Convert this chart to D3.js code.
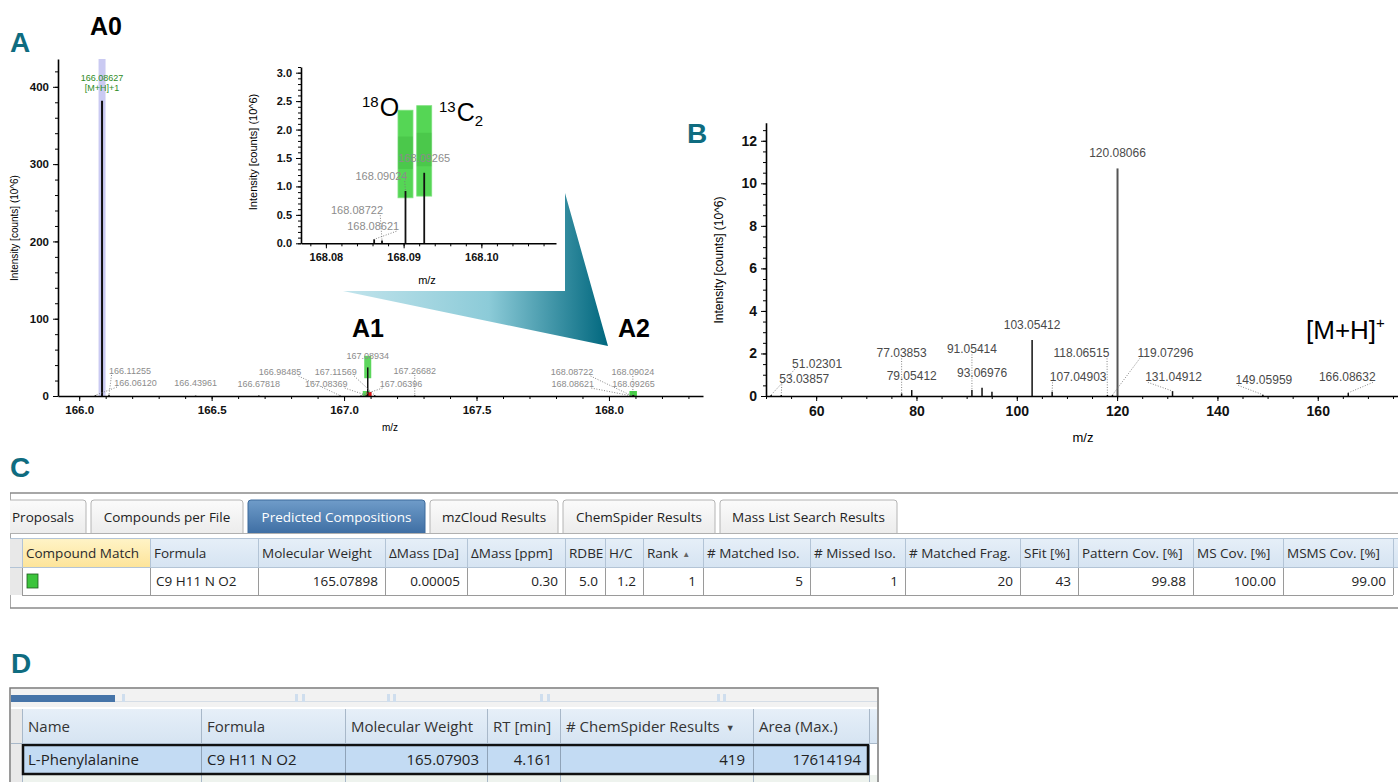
<!DOCTYPE html>
<html><head><meta charset="utf-8">
<script src="https://cdn.jsdelivr.net/npm/d3@7"></script>
<style>
body{margin:0;background:#fff;}
svg{display:block;}
</style></head><body>
<svg id="fig" width="1398" height="782"></svg>
<script>
// ================= DATA =================
// Panel A: full-scan spectrum around [M+H]+ of L-phenylalanine (intensity in 10^6 counts)
const msMz        = [166.08627,166.11255,166.06120,166.43961,166.67818,166.98485,167.06396,167.08369,167.08934,167.11569,167.26682,168.08621,168.08722,168.09024,168.09265];
const msIntensity = [382,      1.5,      1.0,      0.5,      0.5,      0.5,      0.8,      1.0,      37,       1.0,      0.8,      0.07,     0.05,     0.92,     1.24];
const mainPeakNote = ["166.08627","[M+H]+1"];
// isotope pattern boxes (predicted intensity ranges)
const isoMz   = [167.08369,167.08934,168.09024,168.09265];
const isoLow  = [0.2,      23,       0.80,     0.83];
const isoHigh = [1.5,      52,       2.34,     2.42];
const missedIsoMz = [167.0945];
// Panel A axes ticks
const aXTicks = [166.0,166.5,167.0,167.5,168.0];
const aYTicks = [0,100,200,300,400];
const insetXTicks = [168.08,168.09,168.10];
const insetYTicks = [0.0,0.5,1.0,1.5,2.0,2.5,3.0];

// Panel B: MS2 fragment spectrum (intensity in 10^6 counts)
const frMz        = [51.02301,53.03857,77.03853,79.05412,91.05414,93.06976,103.05412,107.04903,118.06515,119.07296,120.08066,131.04912,149.05959,166.08632];
const frIntensity = [0.05,    0.05,    0.12,    0.28,    0.28,    0.39,    2.63,     0.20,     0.05,     0.05,     10.7,     0.23,     0.06,     0.15];
const frUnlabeledMz = [95.04914];
const frUnlabeledIntensity = [0.20];
const bXTicks = [60,80,100,120,140,160];
const bYTicks = [0,2,4,6,8,10,12];

// Panel C: predicted compositions table
const tabNames = ["Proposals","Compounds per File","Predicted Compositions","mzCloud Results","ChemSpider Results","Mass List Search Results"];
const activeTab = "Predicted Compositions";
const cHeaders = ["Compound Match","Formula","Molecular Weight","ΔMass [Da]","ΔMass [ppm]","RDBE","H/C","Rank","# Matched Iso.","# Missed Iso.","# Matched Frag.","SFit [%]","Pattern Cov. [%]","MS Cov. [%]","MSMS Cov. [%]"];
const cValues  = ["","C9 H11 N O2","165.07898","0.00005","0.30","5.0","1.2","1","5","1","20","43","99.88","100.00","99.00"];

// Panel D: compound table
const dHeaders = ["Name","Formula","Molecular Weight","RT [min]","# ChemSpider Results","Area (Max.)"];
const dValues  = ["L-Phenylalanine","C9 H11 N O2","165.07903","4.161","419","17614194"];

// ================= LAYOUT (pixels, not data) =================
const msLabelDx = [0,21,40,0,0,-60,40,-40,0,-39,0,-59,-60,0,0];
const msLabelDy = [0,-25,-13,-13,-12,-24,-12,-12,-40,-24,-25,-12,-24,-24,-12];
const insetLabel = {"168.08621":[-1,-17],"168.08722":[-25,-33],"168.09024":[-24,-67],"168.09265":[0,-85]};
const frLabelDx = [46,23,0,0,0,0,0,26,-26,53,0,1,1,-1];
const frLabelDy = [-32,-17,-43,-20,-47,-23,-71,-19,-43,-43,-243,-19,-16,-19];
const tabEdges = [[4,86],[91,243],[248,425],[430,558],[563,715],[720,897]];
const cColEdges = [22,150,258,385,467,565,605,643,703,810,905,1020,1078,1193,1283,1393];
const dColEdges = [22,201,345,487,560,753,869];

const CH = "'Liberation Sans', Arial, sans-serif";
const TB = "'Open Sans', 'Noto Sans', sans-serif";
const TEAL = "#0f6c80";
const fmt5 = d3.format(".5f");

const svg = d3.select("#fig");
const defs = svg.append("defs");

// ---------- helpers ----------
function axisStyle(g, fs){
  g.select(".domain").attr("stroke","#000").attr("stroke-width",1.6);
  g.selectAll(".tick line").attr("stroke","#000").attr("stroke-width",1);
  g.selectAll(".tick text").attr("font-family",CH).attr("font-weight","bold").attr("font-size",fs).attr("fill","#111");
}
function drawAxes(x, y, xt, yt, xminor, yminor, xf, yf, fs){
  const g = svg.append("g");
  const y0 = y.range()[0], x0 = x.range()[0];
  g.append("g").attr("transform",`translate(0,${y0})`)
    .call(d3.axisBottom(x).tickValues(xminor).tickSize(3).tickSizeOuter(0).tickFormat(""))
    .call(s=>{s.select(".domain").remove(); s.selectAll("line").attr("stroke","#000");});
  g.append("g").attr("transform",`translate(${x0},0)`)
    .call(d3.axisLeft(y).tickValues(yminor).tickSize(3).tickSizeOuter(0).tickFormat(""))
    .call(s=>{s.select(".domain").remove(); s.selectAll("line").attr("stroke","#000");});
  g.append("g").attr("transform",`translate(0,${y0})`)
    .call(d3.axisBottom(x).tickValues(xt).tickSize(5).tickSizeOuter(0).tickFormat(xf).tickPadding(5))
    .call(s=>axisStyle(s,fs));
  g.append("g").attr("transform",`translate(${x0},0)`)
    .call(d3.axisLeft(y).tickValues(yt).tickSize(5).tickSizeOuter(0).tickFormat(yf).tickPadding(4))
    .call(s=>axisStyle(s,fs));
  return g;
}
function dotted(g, x1,y1,x2,y2, col){
  g.append("line").attr("x1",x1).attr("y1",y1).attr("x2",x2).attr("y2",y2)
    .attr("stroke",col||"#777").attr("stroke-width",0.9).attr("stroke-dasharray","1,1.6");
}
function peakLabels(g, pts, x, y, fs, col){
  const y0 = y(0);
  pts.forEach(p=>{
    const px = x(p.mz), cx = px + p.dx, cy = y0 + p.dy;
    const w = p.text.length*fs*0.53;
    const top = y(p.v);
    if (p.dx !== 0){
      const sx = p.dx>0 ? cx - w/2 + 3 : cx + w/2 - 3;
      dotted(g, sx, cy+fs*0.45, px, top);
    } else if (top - (cy + fs*0.45) > 11){
      dotted(g, cx, cy+fs*0.45, px, top);
    }
    g.append("text").attr("x",cx).attr("y",cy).attr("dy","0.35em").attr("text-anchor","middle")
      .attr("font-family",CH).attr("font-size",fs).attr("fill",col).text(p.text);
  });
}

// ---------- Panel letters ----------
[["A",10,52],["B",687,143],["C",10,477],["D",11,673]].forEach(([t,x,y])=>{
  svg.append("text").attr("x",x).attr("y",y).text(t)
    .attr("font-family",CH).attr("font-weight","bold").attr("font-size",28).attr("fill",TEAL);
});

// ================= PANEL A (main) =================
const xA = d3.scaleLinear().domain([165.92,168.355]).range([58,703]);
const yA = d3.scaleLinear().domain([0,436]).range([396,59]);
const gA = svg.append("g");
gA.append("rect").attr("x",xA(msMz[0])-3.5).attr("width",7).attr("y",yA(436)).attr("height",yA(0)-yA(436)).attr("fill","#cacaf2");
drawAxes(xA,yA,aXTicks,aYTicks,d3.range(166.0,168.35,0.1),d3.range(0,436,20),d3.format(".1f"),d3.format("d"),11.5);
isoMz.forEach((m,i)=>{
  const top = yA(isoHigh[i]), bot = yA(isoLow[i]);
  const h = Math.max(bot-top,5);
  const yy = Math.min(top, yA(0)-5);
  gA.append("rect").attr("x",xA(m)-3.5).attr("width",7).attr("y",yy).attr("height",h).attr("fill","#3fcf3f").attr("opacity",0.85);
});
missedIsoMz.forEach(m=>{
  gA.append("rect").attr("x",xA(m)-2.5).attr("width",5).attr("y",yA(0)-4).attr("height",4).attr("fill","#e01010");
});
gA.selectAll("line.pk").data(msMz.map((m,i)=>({m,v:msIntensity[i]}))).join("line")
  .attr("x1",d=>xA(d.m)).attr("x2",d=>xA(d.m)).attr("y1",yA(0)).attr("y2",d=>yA(d.v))
  .attr("stroke","#111").attr("stroke-width",d=>d.v>100?2:1.5);
peakLabels(gA, msMz.slice(1).map((m,k)=>({mz:m,v:msIntensity[k+1],dx:msLabelDx[k+1],dy:msLabelDy[k+1],text:fmt5(m)})), xA, yA, 9, "#8c8c8c");
gA.append("text").attr("x",xA(msMz[0])).attr("y",yA(msIntensity[0])-20).attr("text-anchor","middle")
  .attr("font-family",CH).attr("font-size",9).attr("fill","#2e8b1e").text(mainPeakNote[0]);
gA.append("text").attr("x",xA(msMz[0])).attr("y",yA(msIntensity[0])-10).attr("text-anchor","middle")
  .attr("font-family",CH).attr("font-size",9).attr("fill","#2e8b1e").text(mainPeakNote[1]);
gA.append("text").attr("x",390).attr("y",431).attr("text-anchor","middle").attr("font-family",CH).attr("font-size",10).text("m/z");
gA.append("text").attr("transform","translate(18,228) rotate(-90)").attr("text-anchor","middle").attr("font-family",CH).attr("font-size",10).text("Intensity [counts] (10^6)");
[["A0",90,35],["A1",352,337],["A2",618,337]].forEach(([t,x,y])=>{
  gA.append("text").attr("x",x).attr("y",y).text(t).attr("font-family",CH).attr("font-weight","bold").attr("font-size",25).attr("fill","#000");
});

// ---------- zoom funnel ----------
const grad = defs.append("linearGradient").attr("id","funnel").attr("gradientUnits","userSpaceOnUse")
  .attr("x1",343).attr("y1",0).attr("x2",608).attr("y2",0);
grad.append("stop").attr("offset","0%").attr("stop-color","#c2e4ec");
grad.append("stop").attr("offset","55%").attr("stop-color","#8ccbd8");
grad.append("stop").attr("offset","100%").attr("stop-color","#00677e");
svg.append("polygon").attr("points","343,291 565,291 565,193 608,346").attr("fill","url(#funnel)");

// ================= PANEL A inset =================
const xI = d3.scaleLinear().domain([168.0768,168.1096]).range([301,556]);
const yI = d3.scaleLinear().domain([0,3.1]).range([243.3,67]);
const gI = svg.append("g");
svg.insert("rect","polygon").attr("x",295).attr("y",60).attr("width",270).attr("height",228).attr("fill","#fff");
drawAxes(xI,yI,insetXTicks,insetYTicks,d3.range(168.078,168.109,0.002),d3.range(0,3.11,0.1),d3.format(".2f"),d3.format(".1f"),11);
const inI = msMz.map((m,i)=>({m,v:msIntensity[i]})).filter(d=>d.m>xI.domain()[0]&&d.m<xI.domain()[1]);
isoMz.forEach((m,i)=>{
  if (m<xI.domain()[0]) return;
  const top = yI(isoHigh[i]), bot = yI(isoLow[i]), h = bot-top;
  gI.append("rect").attr("x",xI(m)-7.5).attr("width",15).attr("y",top).attr("height",h).attr("fill","#55d655").attr("stroke","#7ee07e").attr("stroke-width",0.8);
  gI.append("rect").attr("x",xI(m)-7.5).attr("width",15).attr("y",top+h*0.3).attr("height",h*0.37).attr("fill","#2e9e2e").attr("opacity",0.25);
});
gI.selectAll("line.pk").data(inI).join("line")
  .attr("x1",d=>xI(d.m)).attr("x2",d=>xI(d.m)).attr("y1",yI(0)).attr("y2",d=>yI(d.v))
  .attr("stroke","#111").attr("stroke-width",1.8);
peakLabels(gI, inI.map(d=>{const k=fmt5(d.m); return {mz:d.m,v:d.v,dx:insetLabel[k][0],dy:insetLabel[k][1],text:k};}), xI, yI, 11, "#8c8c8c");
gI.append("text").attr("x",427).attr("y",284).attr("text-anchor","middle").attr("font-family",CH).attr("font-size",11).text("m/z");
gI.append("text").attr("transform","translate(257,152) rotate(-90)").attr("text-anchor","middle").attr("font-family",CH).attr("font-size",11).text("Intensity [counts] (10^6)");
const t18 = gI.append("text").attr("x",362).attr("y",116).attr("font-family",CH).attr("font-size",25).attr("fill","#000");
t18.append("tspan").attr("font-size",15).attr("dy",-9).text("18");
t18.append("tspan").attr("dy",9).attr("dx",1).text("O");
const t13 = gI.append("text").attr("x",439).attr("y",121).attr("font-family",CH).attr("font-size",25).attr("fill","#000");
t13.append("tspan").attr("font-size",15).attr("dy",-9).text("13");
t13.append("tspan").attr("dy",9).attr("dx",1).text("C");
t13.append("tspan").attr("font-size",15).attr("dy",5).text("2");

// ================= PANEL B =================
const xB = d3.scaleLinear().domain([50,176]).range([766,1398]);
const yB = d3.scaleLinear().domain([0,12.85]).range([396,122.7]);
const gB = svg.append("g");
drawAxes(xB,yB,bXTicks,bYTicks,d3.range(50,176,5),d3.range(0,12.85,0.5),d3.format("d"),d3.format("d"),14);
const frAll = frMz.map((m,i)=>({m,v:frIntensity[i]})).concat(frUnlabeledMz.map((m,i)=>({m,v:frUnlabeledIntensity[i]})));
gB.selectAll("line.pk").data(frAll).join("line")
  .attr("x1",d=>xB(d.m)).attr("x2",d=>xB(d.m)).attr("y1",yB(0)).attr("y2",d=>yB(d.v))
  .attr("stroke",d=>d.v>5?"#555":"#111").attr("stroke-width",d=>d.v>5?2:1.5);
peakLabels(gB, frMz.map((m,i)=>({mz:m,v:frIntensity[i],dx:frLabelDx[i],dy:frLabelDy[i],text:fmt5(m)})), xB, yB, 12, "#4a4a4a");
gB.append("text").attr("x",1083).attr("y",442).attr("text-anchor","middle").attr("font-family",CH).attr("font-size",13).text("m/z");
gB.append("text").attr("transform","translate(723,260) rotate(-90)").attr("text-anchor","middle").attr("font-family",CH).attr("font-size",12).text("Intensity [counts] (10^6)");
const mh = gB.append("text").attr("x",1306).attr("y",339).attr("font-family",CH).attr("font-size",26).attr("fill","#000");
mh.append("tspan").text("[M+H]");
mh.append("tspan").attr("font-size",15).attr("dy",-11).text("+");

// ================= PANEL C (table) =================
const gC = svg.append("g");
defs.append("clipPath").attr("id","clipC").append("rect").attr("x",10).attr("y",490).attr("width",1390).attr("height",120);
gC.attr("clip-path","url(#clipC)");
const gTabA = defs.append("linearGradient").attr("id","tabAct").attr("x1",0).attr("y1",0).attr("x2",0).attr("y2",1);
gTabA.append("stop").attr("offset","0%").attr("stop-color","#6f9cc9");
gTabA.append("stop").attr("offset","100%").attr("stop-color","#3f6fa4");
const gTabI = defs.append("linearGradient").attr("id","tabIn").attr("x1",0).attr("y1",0).attr("x2",0).attr("y2",1);
gTabI.append("stop").attr("offset","0%").attr("stop-color","#fbfbfb");
gTabI.append("stop").attr("offset","100%").attr("stop-color","#ececec");
const gHdr = defs.append("linearGradient").attr("id","hdr").attr("x1",0).attr("y1",0).attr("x2",0).attr("y2",1);
gHdr.append("stop").attr("offset","0%").attr("stop-color","#e6eff8");
gHdr.append("stop").attr("offset","100%").attr("stop-color","#d6e4f2");
const gYel = defs.append("linearGradient").attr("id","yel").attr("x1",0).attr("y1",0).attr("x2",0).attr("y2",1);
gYel.append("stop").attr("offset","0%").attr("stop-color","#fff4c8");
gYel.append("stop").attr("offset","100%").attr("stop-color","#fde49a");

gC.append("rect").attr("x",10).attr("y",493).attr("width",1400).attr("height",115).attr("fill","#fff").attr("stroke","#8a8a8a").attr("stroke-width",1.5);
gC.append("line").attr("x1",10).attr("x2",1398).attr("y1",533.5).attr("y2",533.5).attr("stroke","#b0b0b0");
tabNames.forEach((t,i)=>{
  const [a,b] = tabEdges[i], act = t===activeTab;
  gC.append("path").attr("d",`M${a},533 L${a},503 Q${a},500 ${a+3},500 L${b-3},500 Q${b},500 ${b},503 L${b},533`)
    .attr("fill",act?"url(#tabAct)":"url(#tabIn)").attr("stroke",act?"#3d6a9c":"#b4b4b4");
  gC.append("text").attr("x",i===0?12:(a+b)/2).attr("y",517).attr("dy","0.35em").attr("text-anchor",i===0?"start":"middle")
    .attr("font-family",TB).attr("font-size",13.5).attr("fill",act?"#fff":"#222").text(t);
});
gC.append("rect").attr("x",10).attr("y",538).attr("width",1390).attr("height",29).attr("fill","url(#hdr)");
gC.append("rect").attr("x",10).attr("y",538).attr("width",12).attr("height",57).attr("fill","#e8e8e8");
cHeaders.forEach((h,i)=>{
  const a = cColEdges[i], b = cColEdges[i+1];
  if (i===0) gC.append("rect").attr("x",a).attr("y",538).attr("width",b-a).attr("height",29).attr("fill","url(#yel)");
  const t = gC.append("text").attr("x",a+4).attr("y",553).attr("dy","0.35em").attr("font-family",TB).attr("font-size",13.5).attr("fill","#2a2a2a").text(h);
  if (h==="Rank") t.append("tspan").attr("font-size",8).attr("fill","#666").attr("dx",4).attr("dy",-1).text("▲");
});
const cellAlign = (i)=> i<=1 ? "start" : "end";
cValues.forEach((v,i)=>{
  const a = cColEdges[i], b = cColEdges[i+1];
  if (i===0){
    gC.append("rect").attr("x",a+5).attr("y",574).attr("width",11).attr("height",14).attr("fill","#3cc43c").attr("stroke","#1d5a1d").attr("stroke-width",0.8);
  } else {
    gC.append("text").attr("x",cellAlign(i)==="start"?a+6:b-7).attr("y",581).attr("dy","0.35em").attr("text-anchor",cellAlign(i))
      .attr("font-family",TB).attr("font-size",13.5).attr("fill","#222").text(v);
  }
});
cColEdges.forEach(x=>{
  gC.append("line").attr("x1",x+0.5).attr("x2",x+0.5).attr("y1",538).attr("y2",567).attr("stroke","#b3c4d6");
  gC.append("line").attr("x1",x+0.5).attr("x2",x+0.5).attr("y1",567).attr("y2",595).attr("stroke","#9a9a9a");
});
[538.5,567.5].forEach(y=>gC.append("line").attr("x1",10).attr("x2",1398).attr("y1",y).attr("y2",y).attr("stroke","#b3c4d6"));
gC.append("line").attr("x1",22).attr("x2",1393).attr("y1",595.5).attr("y2",595.5).attr("stroke","#9a9a9a");

// ================= PANEL D (table) =================
const gD = svg.append("g");
gD.append("rect").attr("x",10).attr("y",688).attr("width",868).attr("height",100).attr("fill","#fff").attr("stroke","#7a7a7a").attr("stroke-width",1.5);
gD.append("rect").attr("x",11).attr("y",689).attr("width",866).attr("height",18).attr("fill","#f2f2f2");
gD.append("line").attr("x1",11).attr("x2",877).attr("y1",701.5).attr("y2",701.5).attr("stroke","#d5dde6");
gD.append("rect").attr("x",11).attr("y",695).attr("width",104).attr("height",7).attr("fill","#4674a8");
[122,295,302,387,393,540,547,717,723].forEach(x=>gD.append("rect").attr("x",x).attr("y",694).attr("width",3).attr("height",8).attr("fill","#cfdeee"));
gD.append("rect").attr("x",11).attr("y",709).attr("width",866).attr("height",34).attr("fill","url(#hdr)");
gD.append("rect").attr("x",11).attr("y",709).attr("width",11).attr("height",73).attr("fill","#e9e9e9");
gD.append("rect").attr("x",22).attr("y",775).attr("width",855).attr("height",7).attr("fill","#eef3ee");
dHeaders.forEach((h,i)=>{
  const a = dColEdges[i];
  const t = gD.append("text").attr("x",a+6).attr("y",727).attr("dy","0.35em").attr("font-family",TB).attr("font-size",15).attr("fill","#333").text(h);
  if (h==="# ChemSpider Results") t.append("tspan").attr("font-size",9).attr("fill","#444").attr("dx",6).attr("dy",-1).text("▼");
});
dColEdges.forEach(x=>{
  gD.append("line").attr("x1",x+0.5).attr("x2",x+0.5).attr("y1",709).attr("y2",782).attr("stroke","#a8b8c9");
});
gD.append("rect").attr("x",23).attr("y",745).attr("width",845).attr("height",29).attr("fill","#c3dbf3");
dColEdges.forEach(x=>gD.append("line").attr("x1",x+0.5).attr("x2",x+0.5).attr("y1",745).attr("y2",774).attr("stroke","#8fa3b8"));
dValues.forEach((v,i)=>{
  const a = dColEdges[i], b = dColEdges[i+1], left = i<2;
  gD.append("text").attr("x",left?a+6:b-8).attr("y",760).attr("dy","0.35em").attr("text-anchor",left?"start":"end")
    .attr("font-family",TB).attr("font-size",15).attr("fill","#222").text(v);
});
gD.append("rect").attr("x",23).attr("y",745).attr("width",845).attr("height",29).attr("fill","none").attr("stroke","#111").attr("stroke-width",2.5);
gD.append("line").attr("x1",11).attr("x2",877).attr("y1",743.5).attr("y2",743.5).attr("stroke","#a8b8c9");
gD.append("line").attr("x1",869.5).attr("x2",869.5).attr("y1",709).attr("y2",745).attr("stroke","#a8b8c9");
</script>
</body></html>
